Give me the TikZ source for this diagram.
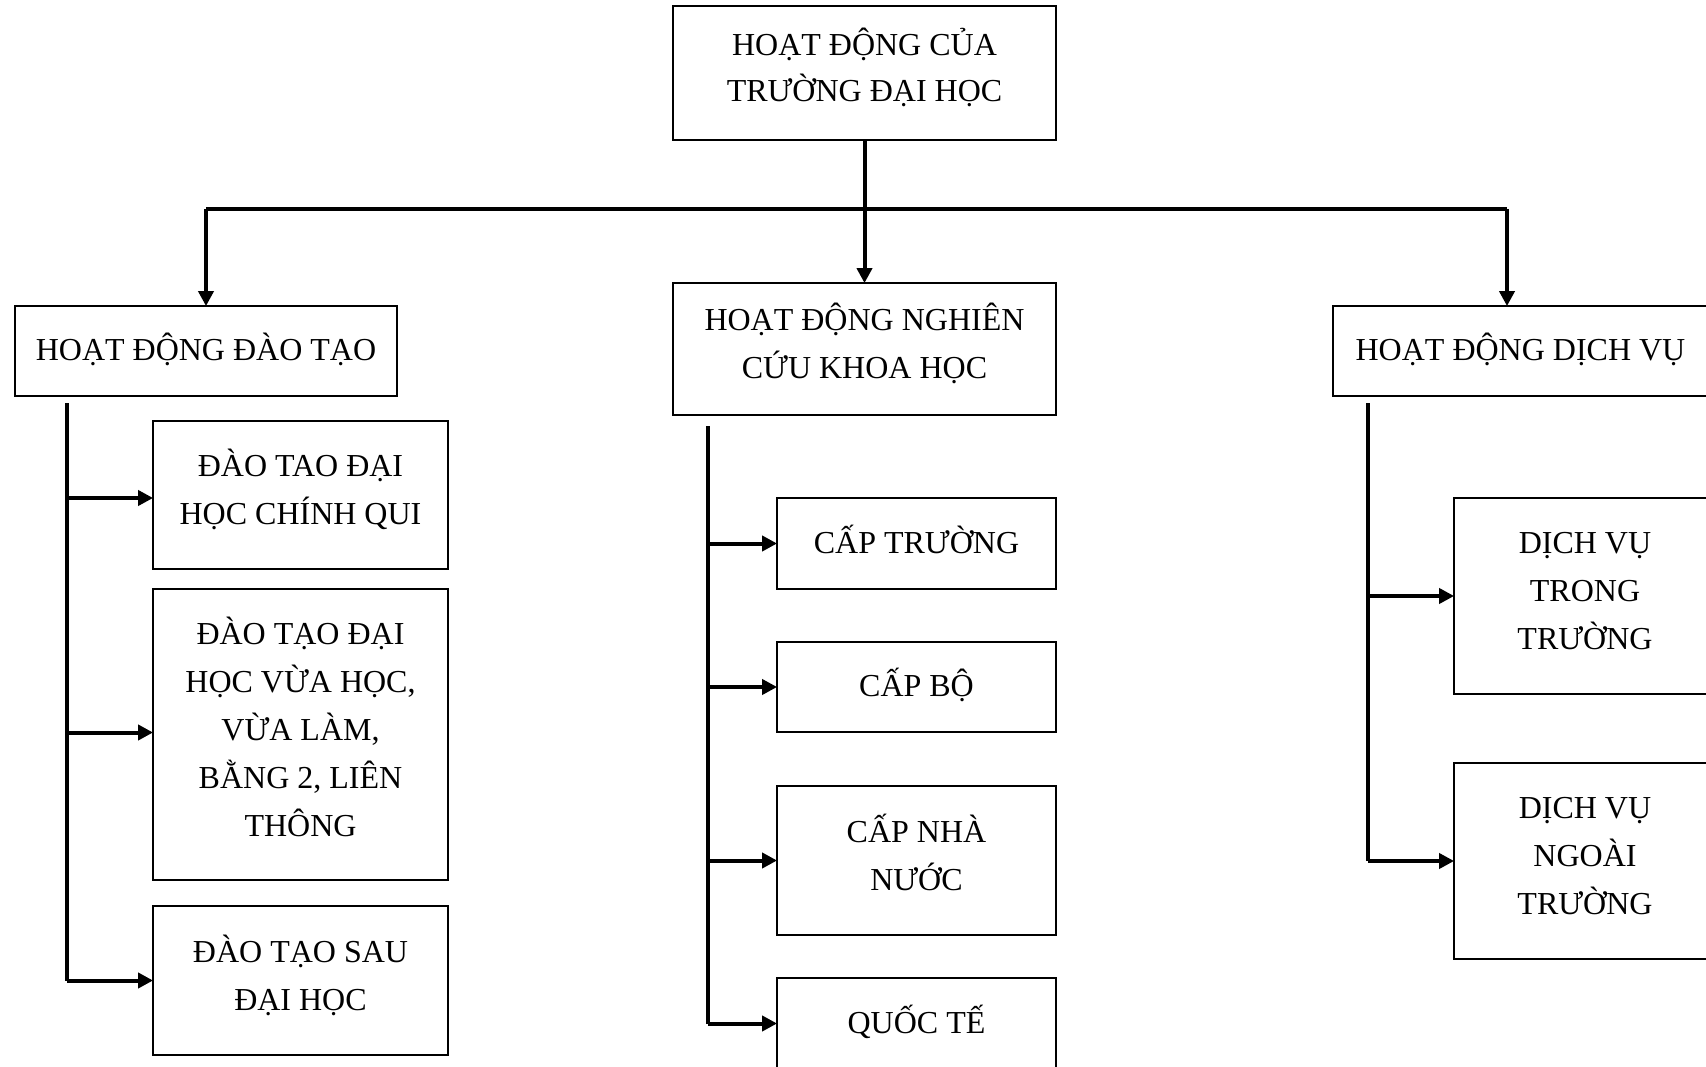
\documentclass[tikz,border=0pt]{standalone}
\usepackage{fontspec}
\setmainfont{Liberation Serif}
\usetikzlibrary{arrows.meta}
\newcommand\bt[1]{\begin{tabular}[b]{@{}c@{}}#1\end{tabular}\rule[-22pt]{0pt}{1pt}}
\newcommand\st[1]{\begin{tabular}[b]{@{}c@{}}#1\end{tabular}}
\begin{document}
\begin{tikzpicture}[x=1pt,y=-1pt,
  box/.style={draw=black, line width=1.8pt, inner sep=0pt,
    font=\fontsize{32}{48}\selectfont},
  conn/.style={line width=4pt},
  arr/.style={line width=4pt, -{Triangle[length=15pt,width=15pt]}, shorten >=-1pt}]
\clip (0,0) rectangle (1706,1067);
\fill[white] (0,0) rectangle (1706,1067);
% top level
\node[box, font=\fontsize{32}{46}\selectfont, minimum width=383pt, minimum height=134pt] (top) at (864.5,73) {\bt{HOẠT ĐỘNG CỦA\\TRƯỜNG ĐẠI HỌC}};
\node[box, minimum width=382pt, minimum height=90pt] (dt) at (206,351) {\st{HOẠT ĐỘNG ĐÀO TẠO}};
\node[box, minimum width=383pt, minimum height=132pt] (nc) at (864.5,349) {\bt{HOẠT ĐỘNG NGHIÊN\\CỨU KHOA HỌC}};
\node[box, minimum width=375pt, minimum height=90pt] (dv) at (1520.5,351) {\st{HOẠT ĐỘNG DỊCH VỤ}};
% left children
\node[box, minimum width=295pt, minimum height=148pt] (l1) at (300.5,495) {\bt{ĐÀO TAO ĐẠI\\HỌC CHÍNH QUI}};
\node[box, minimum width=295pt, minimum height=291pt] (l2) at (300.5,734.5) {\bt{ĐÀO TẠO ĐẠI\\HỌC VỪA HỌC,\\VỪA LÀM,\\BẰNG 2, LIÊN\\THÔNG}};
\node[box, minimum width=295pt, minimum height=149pt] (l3) at (300.5,980.5) {\bt{ĐÀO TẠO SAU\\ĐẠI HỌC}};
% middle children
\node[box, minimum width=279pt, minimum height=91pt] (m1) at (916.5,543.5) {\st{CẤP TRƯỜNG}};
\node[box, minimum width=279pt, minimum height=90pt] (m2) at (916.5,687) {\st{CẤP BỘ}};
\node[box, minimum width=279pt, minimum height=149pt] (m3) at (916.5,860.5) {\bt{CẤP NHÀ\\NƯỚC}};
\node[box, minimum width=279pt, minimum height=91pt] (m4) at (916.5,1023.5) {\st{QUỐC TẾ}};
% right children
\node[box, minimum width=262pt, minimum height=196pt] (r1) at (1585,596) {\bt{DỊCH VỤ\\TRONG\\TRƯỜNG}};
\node[box, minimum width=262pt, minimum height=196pt] (r2) at (1585,861) {\bt{DỊCH VỤ\\NGOÀI\\TRƯỜNG}};
% bus
\coordinate (busL) at (206,209);
\coordinate (busR) at (1507,209);
\draw[conn] (busL) -- (busR);
\draw[arr] (top.south) -- (nc.north);
\draw[arr] (busL) -- (busL |- dt.north);
\draw[arr] (busR) -- (busR |- dv.north);
% left trunk
\coordinate (lt) at (67,403);
\draw[conn] (lt) -- (lt |- l3.west);
\draw[arr] ([yshift=-3pt]lt |- l1.west) -- ([yshift=-3pt]l1.west);
\draw[arr] ([yshift=2pt]lt |- l2.west) -- ([yshift=2pt]l2.west);
\draw[arr] (lt |- l3.west) -- (l3.west);
% middle trunk
\coordinate (mt) at (708,426);
\draw[conn] (mt) -- (mt |- m4.west);
\draw[arr] (mt |- m1.west) -- (m1.west);
\draw[arr] (mt |- m2.west) -- (m2.west);
\draw[arr] (mt |- m3.west) -- (m3.west);
\draw[arr] (mt |- m4.west) -- (m4.west);
% right trunk
\coordinate (rt) at (1368,403);
\draw[conn] (rt) -- (rt |- r2.west);
\draw[arr] (rt |- r1.west) -- (r1.west);
\draw[arr] (rt |- r2.west) -- (r2.west);
\end{tikzpicture}
\end{document}
